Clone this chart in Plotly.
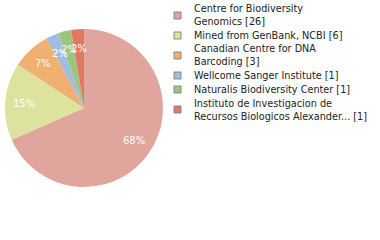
import math
import plotly.graph_objects as go

labels = ["Centre for Biodiversity<br>Genomics [26]", "Mined from GenBank, NCBI [6]",
          "Canadian Centre for DNA<br>Barcoding [3]", "Wellcome Sanger Institute [1]",
          "Naturalis Biodiversity Center [1]",
          "Instituto de Investigacion de<br>Recursos Biologicos Alexander... [1]"]
values = [26, 6, 3, 1, 1, 1]
pct_text = ["68%", "15%", "7%", "2%", "2%", "2%"]
colors = ["#e0a59c", "#dde29c", "#f0b070", "#a0bde0", "#9cc47c", "#e07862"]

W, H = 380, 240
# pie placement in pixels
cx, cy, R = 84, 108, 79

fig = go.Figure(go.Pie(
    labels=labels, values=values, textinfo="none",
    sort=False, direction="clockwise", rotation=0,
    marker=dict(colors=colors, line=dict(color="white", width=0)),
    domain=dict(x=[(cx - R) / W, (cx + R) / W], y=[1 - (cy + R) / H, 1 - (cy - R) / H]),
    hoverinfo="none", showlegend=False,
))

annotations = []
shapes = []
total = sum(values)
cum = 0
for v, t in zip(values, pct_text):
    mid = (cum + v / 2) / total * 2 * math.pi
    cum += v
    r = 0.76 * R
    px = cx + r * math.sin(mid)
    py = cy - r * math.cos(mid)
    annotations.append(dict(x=px / W, y=1 - py / H, xref="paper", yref="paper",
                            text=t, showarrow=False, xanchor="center", yanchor="middle",
                            font=dict(color="white", size=10, family="DejaVu Sans")))

# legend built from labels
line_h, gap, top = 12, 2, 3.5
y = top
for lab, col in zip(labels, colors):
    n = lab.count("<br>") + 1
    hgt = n * line_h
    c = y + hgt / 2
    shapes.append(dict(type="rect", xref="paper", yref="paper",
                       x0=174 / W, x1=181 / W, y0=1 - (c - 3.5) / H, y1=1 - (c + 3.5) / H,
                       fillcolor=col, line=dict(color="#888888", width=1)))
    annotations.append(dict(x=192 / W, y=1 - c / H, xref="paper", yref="paper",
                            text=lab, showarrow=False, xanchor="left", yanchor="middle",
                            align="left",
                            font=dict(color="#222222", size=9.7, family="DejaVu Sans")))
    y += hgt + gap

fig.update_layout(
    width=W, height=H, margin=dict(l=0, r=0, t=0, b=0),
    paper_bgcolor="white", plot_bgcolor="white",
    annotations=annotations, shapes=shapes, showlegend=False,
)
fig.write_html("out.html")
